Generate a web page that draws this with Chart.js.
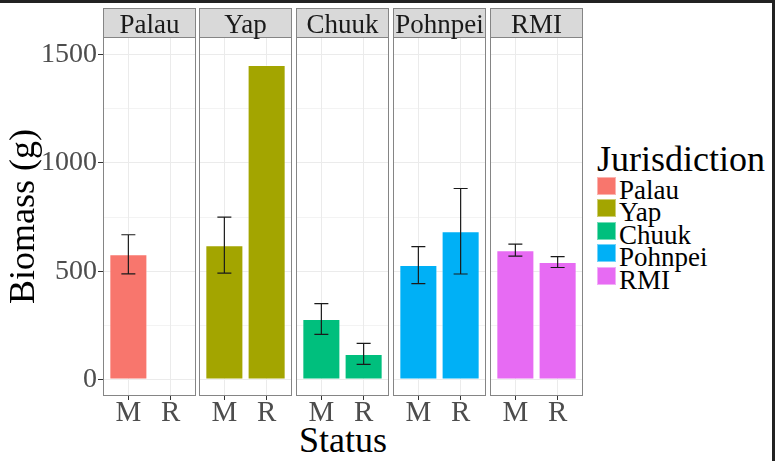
<!DOCTYPE html>
<html>
<head>
<meta charset="utf-8">
<script src="https://cdn.jsdelivr.net/npm/chart.js@4.4.1/dist/chart.umd.min.js"></script>
<style>
  body { margin: 0; background: #fff; width: 784px; height: 461px; overflow: hidden; position: relative; font-family: "Liberation Serif", serif; }
  canvas { position: absolute; }
  #frame { position: absolute; left: 0; top: 0; height: 470px; border-top: 3px solid #222; border-right: 3px solid #222; box-sizing: border-box; width: 775px; }
  #xtitle { position: absolute; top: 422px; left: 343px; transform: translateX(-50%); font-size: 36px; line-height: 36px; color: #000; white-space: nowrap; }
  #legend { position: absolute; left: 597px; top: 141px; }
  #legend .title { font-size: 36px; line-height: 36px; color: #000; }
  .item { position: absolute; left: 0; height: 22px; white-space: nowrap; }
  .key { position: absolute; left: 0; width: 19px; height: 18px; box-sizing: border-box; border: 1px solid rgba(255,255,255,0.45); }
  .lab { position: absolute; left: 22px; font-size: 27px; line-height: 27px; color: #000; }
</style>
</head>
<body>
<div id="frame"></div>
<div id="xtitle">Status</div>
<div id="legend"><div class="title">Jurisdiction</div></div>
<script>
const jurisdictions = ['Palau', 'Yap', 'Chuuk', 'Pohnpei', 'RMI'];
const statuses = ['M', 'R'];
const biomassM = [579, 621, 281, 529, 598];
const biomassR = [null, 1451, 120, 685, 543];
const errM = [90, 129, 71, 85, 28];
const errR = [null, null, 48, 197, 25];
const yTicks = [0, 500, 1000, 1500];
const yMinor = [250, 750, 1250];

const palette = ['#F8766D', '#A3A500', '#00BF7D', '#00B0F6', '#E76BF3'];

// facet layout
const panelLeft = [103, 199, 296, 393, 490];
const panelW = 93;
const panelTop = 37;
const panelH = 359;
const stripH = 29;
const axisH = 40;
const serif = '"Liberation Serif"';

const facetPlugin = {
    id: 'facet',
    afterDatasetsDraw(chart, args, opts) {
        const ctx = chart.ctx;
        const y = chart.scales.y;
        const meta = chart.getDatasetMeta(0);
        ctx.save();
        ctx.strokeStyle = '#1a1a1a';
        ctx.lineWidth = 1.2;
        meta.data.forEach((bar, k) => {
            const raw = chart.data.datasets[0].data[k];
            const e = opts.errs[raw.x - 1];
            if (e == null) return;
            const top = y.getPixelForValue(raw.y + e);
            const bot = y.getPixelForValue(raw.y - e);
            ctx.beginPath();
            ctx.moveTo(bar.x, top); ctx.lineTo(bar.x, bot);
            ctx.moveTo(bar.x - 7, top); ctx.lineTo(bar.x + 7, top);
            ctx.moveTo(bar.x - 7, bot); ctx.lineTo(bar.x + 7, bot);
            ctx.stroke();
        });
        ctx.restore();
    },
    afterDraw(chart, args, opts) {
        const ctx = chart.ctx;
        const a = chart.chartArea;
        ctx.save();
        ctx.fillStyle = '#d9d9d9';
        ctx.fillRect(a.left, a.top - stripH, a.right - a.left, stripH);
        ctx.strokeStyle = '#858585';
        ctx.lineWidth = 1;
        ctx.strokeRect(a.left + 0.5, a.top - stripH + 0.5, a.right - a.left - 1, stripH);
        ctx.strokeRect(a.left + 0.5, a.top + 0.5, a.right - a.left - 1, a.bottom - a.top - 1);
        ctx.fillStyle = '#1a1a1a';
        ctx.font = '27px ' + serif;
        ctx.textAlign = 'center';
        ctx.textBaseline = 'alphabetic';
        ctx.fillText(opts.label, (a.left + a.right) / 2, a.top - 4);
        ctx.restore();
    }
};

function drawFacets() {
    jurisdictions.forEach((name, i) => {
        const first = i === 0;
        const leftW = first ? 103 : 3;
        const canvas = document.createElement('canvas');
        canvas.width = leftW + panelW + 3;
        canvas.height = 1 + stripH + panelH + axisH;
        canvas.style.left = (panelLeft[i] - leftW) + 'px';
        canvas.style.top = (panelTop - stripH - 1) + 'px';
        document.body.appendChild(canvas);

        const vals = [biomassM[i], biomassR[i]];
        const points = statuses.map((s, j) => ({ x: j + 1, y: vals[j] })).filter(p => p.y !== null);

        new Chart(canvas, {
            type: 'bar',
            data: {
                datasets: [{
                    data: points,
                    backgroundColor: palette[i],
                    borderColor: 'rgba(255,255,255,0.4)',
                    borderWidth: 1,
                    borderSkipped: false,
                    categoryPercentage: 1,
                    barPercentage: 0.9
                }]
            },
            plugins: [facetPlugin],
            options: {
                responsive: false,
                animation: false,
                devicePixelRatio: 1,
                layout: { padding: { top: stripH + 1, right: 3, left: 0, bottom: 0 } },
                plugins: {
                    legend: { display: false },
                    tooltip: { enabled: false },
                    facet: { label: name, errs: [errM[i], errR[i]] }
                },
                scales: {
                    x: {
                        type: 'linear',
                        min: 0.4,
                        max: 2.6,
                        offset: false,
                        afterBuildTicks: s => { s.ticks = statuses.map((t, j) => ({ value: j + 1 })); },
                        afterFit: s => { s.height = axisH; },
                        grid: { offset: false, color: '#ebebeb', lineWidth: 1, tickColor: '#333', tickLength: 4 },
                        border: { display: false },
                        ticks: {
                            padding: 0,
                            color: '#4d4d4d',
                            font: { family: serif, size: 29, lineHeight: 0.9 },
                            maxRotation: 0,
                            callback: v => statuses[v - 1]
                        }
                    },
                    y: {
                        min: -74,
                        max: 1580,
                        afterBuildTicks: s => { s.ticks = yTicks.concat(yMinor).sort((p, q) => p - q).map(v => ({ value: v })); },
                        afterFit: s => { s.width = leftW; },
                        grid: {
                            color: '#ebebeb',
                            lineWidth: c => yTicks.includes(c.tick.value) ? 1 : 0.6,
                            tickColor: c => (first && yTicks.includes(c.tick.value)) ? '#333' : 'rgba(0,0,0,0)',
                            tickLength: first ? 5 : 0,
                            drawTicks: first
                        },
                        border: { display: false },
                        title: {
                            display: first,
                            text: 'Biomass (g)',
                            color: '#000',
                            font: { family: serif, size: 36, lineHeight: 1 },
                            padding: { top: 7, bottom: 0 }
                        },
                        ticks: {
                            display: first,
                            padding: 1,
                            color: '#4d4d4d',
                            font: { family: serif, size: 28 },
                            callback: v => yTicks.includes(v) ? String(v) : ''
                        }
                    }
                }
            }
        });
    });
}

// legend
const legend = document.getElementById('legend');
jurisdictions.forEach((name, k) => {
    const item = document.createElement('div');
    item.className = 'item';
    item.style.top = (36 + k * 22.4) + 'px';
    item.innerHTML = '<div class="key" style="background:' + palette[k] + '"></div><div class="lab">' + name + '</div>';
    legend.appendChild(item);
});

document.fonts.load('27px "Liberation Serif"').then(drawFacets, drawFacets);
</script>
</body>
</html>
